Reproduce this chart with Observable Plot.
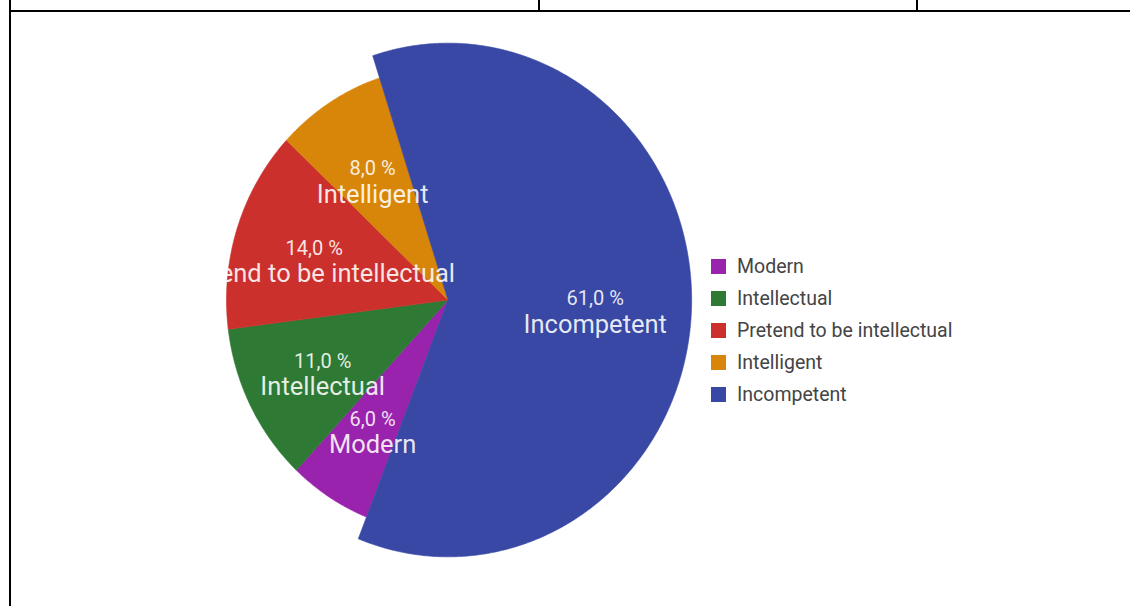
<!DOCTYPE html>
<html>
<head>
<meta charset="utf-8">
<script src="https://cdn.jsdelivr.net/npm/d3@7"></script>
<script src="https://cdn.jsdelivr.net/npm/@observablehq/plot@0.6"></script>
<style>
  html, body { margin: 0; padding: 0; background: #fff; }
  #wrap { position: relative; width: 1130px; height: 606px; overflow: hidden; font-family: Roboto, "Noto Sans", sans-serif; }
  #chart { position: absolute; left: 0; top: 0; }
  .rule { position: absolute; background: #000; }
  #legend { position: absolute; left: 711px; top: 250px; }
  .item { display: flex; align-items: center; height: 32px; font-size: 19.5px; color: #444; white-space: nowrap; }
  .sw { width: 15px; height: 15px; margin-right: 11px; flex: none; }
</style>
</head>
<body>
<div id="wrap">
  <div id="chart"></div>
  <div id="legend"></div>
  <div class="rule" style="left:9px; top:10px; width:1121px; height:2px;"></div>
  <div class="rule" style="left:9px; top:0px; width:2px; height:606px;"></div>
  <div class="rule" style="left:538px; top:0px; width:2px; height:11px;"></div>
  <div class="rule" style="left:916px; top:0px; width:2px; height:11px;"></div>
</div>
<script>
// ---- data ----
const categories = ["Modern", "Intellectual", "Pretend to be intellectual", "Intelligent", "Incompetent"];
const values = [6, 11, 14, 8, 61];
const percentLabels = ["6,0 %", "11,0 %", "14,0 %", "8,0 %", "61,0 %"];
const colors = ["#9a23ad", "#2e7a34", "#cc302c", "#d7860a", "#3848a4"];
const exploded = [false, false, false, false, true];

// ---- geometry derived from the data ----
const startDeg = 201.6;
const pie = d3.pie().sort(null)
  .startAngle(startDeg * Math.PI / 180)
  .endAngle(startDeg * Math.PI / 180 + 2 * Math.PI)(values);

const slicePoints = [];
const labelRows = [];
pie.forEach((a, i) => {
  const r = exploded[i] ? 1.1 : 1;
  const cat = categories[i];
  slicePoints.push({cat, x: 0, y: 0});
  const n = Math.max(8, Math.ceil((a.endAngle - a.startAngle) / 0.01));
  for (let k = 0; k <= n; k++) {
    const t = a.startAngle + (a.endAngle - a.startAngle) * k / n;
    slicePoints.push({cat, x: r * Math.sin(t), y: r * Math.cos(t)});
  }
  slicePoints.push({cat, x: 0, y: 0});
  const mid = (a.startAngle + a.endAngle) / 2;
  const lr = exploded[i] ? 0.665 : 0.635;
  labelRows.push({cat, pct: percentLabels[i], x: lr * Math.sin(mid), y: lr * Math.cos(mid)});
});

const chart = Plot.plot({
  width: 1130,
  height: 606,
  marginLeft: 223,
  marginRight: 0,
  marginTop: 0,
  marginBottom: 0,
  style: {background: "transparent", fontFamily: "Roboto, 'Noto Sans', sans-serif"},
  x: {domain: [-1, 1], range: [226, 669], axis: null},
  y: {domain: [-1, 1], range: [533, 66], axis: null},
  color: {domain: categories, range: colors},
  marks: [
    Plot.line(slicePoints, {x: "x", y: "y", z: "cat", fill: "cat", stroke: "cat", strokeWidth: 0.6}),
    Plot.text(labelRows, {x: "x", y: "y", text: "pct", dy: -6, fontSize: 20, fill: "#ffffff", fillOpacity: 0.88, clip: true}),
    Plot.text(labelRows, {x: "x", y: "y", text: "cat", dy: 20, fontSize: 25.5, fill: "#ffffff", fillOpacity: 0.88, clip: true})
  ]
});
document.getElementById("chart").appendChild(chart);

// legend
const legend = document.getElementById("legend");
categories.forEach((c, i) => {
  const row = document.createElement("div");
  row.className = "item";
  const sw = document.createElement("span");
  sw.className = "sw";
  sw.style.background = colors[i];
  const tx = document.createElement("span");
  tx.textContent = c;
  row.appendChild(sw);
  row.appendChild(tx);
  legend.appendChild(row);
});
</script>
</body>
</html>
